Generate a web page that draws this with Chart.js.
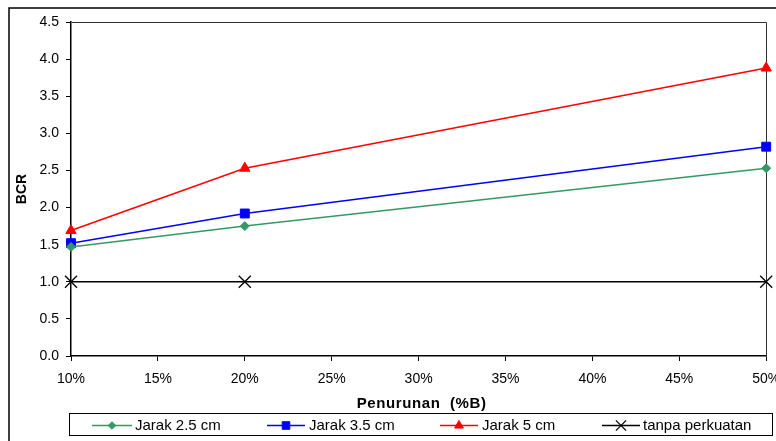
<!DOCTYPE html>
<html>
<head>
<meta charset="utf-8">
<script src="https://cdn.jsdelivr.net/npm/chart.js@4/dist/chart.umd.min.js"></script>
<style>
  html, body { margin: 0; padding: 0; background: #ffffff; }
  #wrap { width: 776px; height: 441px; position: relative; }
</style>
</head>
<body>
<div id="wrap"><canvas id="c" width="776" height="441"></canvas></div>
<script>
// Settlement ratio (%B) and bearing capacity ratio per reinforcement spacing
const penurunan = [10, 20, 50];
const jarak25 = [1.47, 1.75, 2.53];
const jarak35 = [1.52, 1.92, 2.82];
const jarak5 = [1.69, 2.53, 3.88];
const tanpaPerkuatan = [1.0, 1.0, 1.0];
const seriesNames = ['Jarak 2.5 cm', 'Jarak 3.5 cm', 'Jarak 5 cm', 'tanpa perkuatan'];
const yTicks = [0, 0.5, 1.0, 1.5, 2.0, 2.5, 3.0, 3.5, 4.0, 4.5];
const xTicks = [10, 15, 20, 25, 30, 35, 40, 45, 50];
const xTitle = 'Penurunan  (%B)';
const yTitle = 'BCR';

const FONT = 'Liberation Sans, Arial, sans-serif';
const styles = [
  { color: '#339966', pointStyle: 'rectRot', radius: 4.5 },
  { color: '#0000ff', pointStyle: 'rect', radius: 6.3 },
  { color: '#ff0000', pointStyle: 'triangle', radius: 6 },
  { color: '#000000', pointStyle: 'crossRot', radius: 8.5 }
];
const values = [jarak25, jarak35, jarak5, tanpaPerkuatan];

const datasets = values.map((vals, i) => ({
  label: seriesNames[i],
  data: penurunan.map((x, j) => ({ x: x, y: vals[j] })),
  borderColor: styles[i].color,
  backgroundColor: styles[i].color,
  pointBackgroundColor: styles[i].color,
  pointBorderColor: styles[i].color,
  pointStyle: styles[i].pointStyle,
  pointRadius: styles[i].radius,
  pointHoverRadius: styles[i].radius,
  pointBorderWidth: i === 3 ? 1.3 : 1,
  borderWidth: 1.5,
  tension: 0,
  clip: false
}));

// Frame around the chart, plot-area box, x-axis title and the boxed legend
const decorations = {
  id: 'decorations',
  beforeDatasetsDraw(chart) {
    const { ctx, chartArea: a } = chart;
    ctx.save();
    ctx.strokeStyle = '#333333';
    ctx.lineWidth = 1;
    ctx.beginPath();
    ctx.moveTo(Math.round(a.left) + 0.5, Math.round(a.top) + 0.5);
    ctx.lineTo(Math.round(a.right) + 0.5, Math.round(a.top) + 0.5);
    ctx.lineTo(Math.round(a.right) + 0.5, Math.round(a.bottom) + 0.5);
    ctx.stroke();
    ctx.restore();
  },
  afterDraw(chart) {
    const ctx = chart.ctx;
    const a = chart.chartArea;
    ctx.save();
    // outer frame
    ctx.strokeStyle = '#000000';
    ctx.lineWidth = 1.5;
    ctx.beginPath();
    ctx.moveTo(9, 460);
    ctx.lineTo(9, 8);
    ctx.lineTo(800, 8);
    ctx.stroke();

    // x-axis title, slightly letter-spaced
    ctx.fillStyle = '#000000';
    ctx.font = 'bold 15px ' + FONT;
    ctx.textAlign = 'center';
    ctx.textBaseline = 'alphabetic';
    if ('letterSpacing' in ctx) ctx.letterSpacing = '0.6px';
    ctx.fillText(xTitle, (a.left + a.right) / 2 + 3, 408);
    if ('letterSpacing' in ctx) ctx.letterSpacing = '0px';

    // legend box
    ctx.lineWidth = 1;
    ctx.strokeStyle = '#000000';
    ctx.strokeRect(69.5, 413.5, 703, 22);
    const items = [
      { x0: 92, x1: 132, tx: 135 },
      { x0: 267, x1: 305, tx: 309 },
      { x0: 440, x1: 478, tx: 482 },
      { x0: 602, x1: 640, tx: 643 }
    ];
    const ly = 425;
    ctx.font = '15px ' + FONT;
    ctx.textBaseline = 'alphabetic';
    ctx.textAlign = 'left';
    items.forEach((it, i) => {
      const st = styles[i];
      ctx.strokeStyle = st.color;
      ctx.lineWidth = 1.5;
      ctx.beginPath();
      ctx.moveTo(it.x0, ly + 0.5);
      ctx.lineTo(it.x1, ly + 0.5);
      ctx.stroke();
      ctx.fillStyle = st.color;
      ctx.lineWidth = i === 3 ? 1.3 : 1;
      Chart.helpers.drawPoint(ctx, {
        pointStyle: st.pointStyle,
        radius: st.radius * 0.85,
        rotation: 0,
        borderWidth: ctx.lineWidth
      }, (it.x0 + it.x1) / 2, ly + 0.5);
      ctx.fillStyle = '#000000';
      ctx.fillText(seriesNames[i], it.tx, 430);
    });
    ctx.restore();
  }
};

new Chart(document.getElementById('c'), {
  type: 'line',
  data: { datasets: datasets },
  plugins: [decorations],
  options: {
    responsive: false,
    animation: false,
    events: [],
    layout: { padding: { left: 0, top: 22, right: 8, bottom: 25 } },
    plugins: {
      legend: { display: false },
      tooltip: { enabled: false }
    },
    scales: {
      x: {
        type: 'linear',
        min: 10,
        max: 50,
        afterBuildTicks(scale) { scale.ticks = xTicks.map(v => ({ value: v })); },
        afterFit(scale) {
          scale.height = 60;
          scale.paddingLeft = 0;
          scale.paddingRight = 0;
        },
        ticks: {
          color: '#000000',
          font: { family: FONT, size: 14 },
          padding: 10,
          maxRotation: 0,
          autoSkip: false,
          callback: v => v + '%'
        },
        grid: {
          display: true,
          drawOnChartArea: false,
          drawTicks: true,
          tickLength: 5,
          color: '#000000'
        },
        border: { display: true, color: '#000000', width: 1.5 },
        title: { display: false }
      },
      y: {
        type: 'linear',
        min: 0,
        max: 4.5,
        afterBuildTicks(scale) { scale.ticks = yTicks.map(v => ({ value: v })); },
        afterFit(scale) {
          scale.width = 71;
          scale.paddingTop = 0;
          scale.paddingBottom = 0;
        },
        ticks: {
          color: '#000000',
          font: { family: FONT, size: 14 },
          padding: 7,
          autoSkip: false,
          callback: v => Number(v).toFixed(1)
        },
        grid: {
          display: true,
          drawOnChartArea: false,
          drawTicks: true,
          tickLength: 5,
          color: '#000000'
        },
        border: { display: true, color: '#000000', width: 1.5 },
        title: {
          display: true,
          text: yTitle,
          color: '#000000',
          font: { family: FONT, size: 14, weight: 'bold' },
          padding: { top: 13.5, bottom: 0 }
        }
      }
    }
  }
});
</script>
</body>
</html>
